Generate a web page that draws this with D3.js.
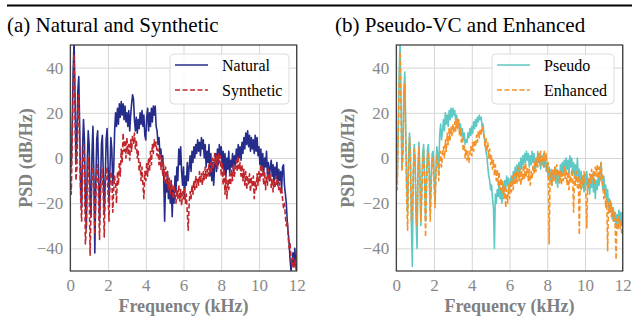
<!DOCTYPE html>
<html>
<head>
<meta charset="utf-8">
<script src="https://cdn.jsdelivr.net/npm/d3@7"></script>
<style>
  body { margin: 0; background: #fff; }
  svg { display: block; }
  text { font-family: "Liberation Serif", "Times New Roman", serif; }
</style>
</head>
<body>
<div id="chart"></div>
<script>
// PSD values in dB/Hz, one sample every 0.05 kHz from 0 to 12 kHz (one row = 1 kHz)
const freqStep = 0.05;

const natural = [
  6, -4, 14, 38, 52, 28, -2, 8, 30, 36, 12, -14, -22, 4, 17, 8, -20, -31, -2, 12,
  6, -18, -26, 2, 14, -8, -42, -12, 8, 12, -6, -28, -14, 6, 10, -8, -25, -10, 8, 13,
  -2, -20, -6, 9, 4, -12, -5, 12, 20, 14, 22, 15, 24, 18, 25, 19, 24, 17, 23, 16,
  20, 14, 21, 12, 19, 24, 28, 26, 17, 12, 18, 11, 17, 13, 20, 15, 21, 14, 19, 10,
  8, 18, 22, 12, 20, 14, 22, 16, 23, 19, 23, 14, 12, 6, 9, 2, 4, -2, 1, -8,
  -28, -10, -15, -6, -18, -12, -20, -10, -26, -14, -20, -8, -15, -4, -10, 4, -3, 5, -6, -12,
  -4, -18, -8, -12, -2, -10, -4, 1, -6, 3, -2, 5, 0, 6, 2, 8, 3, 7, 1, 9,
  4, 8, 0, 6, -4, 3, -2, 6, -8, 2, -10, -2, -12, -4, 2, -6, 4, -3, 6, 0,
  5, -4, 3, -6, 2, -8, 0, -5, 3, -7, -1, -4, 2, -6, 1, -3, 4, -2, 6, 0,
  5, -1, 7, 2, 9, 4, 11, 6, 12, 5, 10, 3, 9, 4, 8, 2, 10, 3, 9, 1,
  5, -3, 4, -5, 2, -7, 0, -4, 3, -8, -2, -10, -4, -1, -8, -3, -11, -4, -9, -2,
  -12, -5, -10, -6, -14, -4, -3, -12, -16, -20, -28, -33, -38, -45, -50, -46, -42, -48, -40, -47,
  -50
];

const synthetic = [
  -2, -16, 6, 30, 46, 20, -10, -4, 20, 28, 4, -18, -28, -6, 6, -2, -38, -30, -10, 0,
  -12, -43, -22, -6, -4, -14, -34, -18, -6, -3, -20, -36, -16, -7, -5, -18, -35, -14, -6, -4,
  -16, -28, -12, -6, -9, -24, -14, -8, -12, -20, -6, -12, -2, -8, 4, -2, 11, 3, 8, 0,
  9, 2, 6, -1, 8, 3, 10, 6, 11, 4, 8, 0, 3, -6, -2, -10, -4, -12, -18, -6,
  -10, -2, -8, 0, -6, 3, -3, 6, 2, 8, 5, 7, 1, 4, -3, 2, -5, 0, -8, -3,
  -10, -4, -12, -6, -14, -9, -16, -10, -13, -18, -12, -16, -20, -14, -18, -12, -19, -14, -21, -15,
  -18, -13, -20, -16, -24, -32, -20, -15, -18, -12, -16, -10, -14, -8, -13, -9, -12, -6, -11, -7,
  -12, -6, -10, -4, -9, -5, -8, -3, -7, -2, -6, 0, -4, 2, -3, 1, -5, 2, -2, 1,
  -8, -2, -12, -5, -16, -8, -18, -10, -14, -7, -12, -5, -10, -3, -8, -4, -1, -6, 1, -5,
  -2, -8, -3, -10, -5, -12, -6, -14, -8, -12, -7, -15, -9, -13, -8, -18, -10, -14, -7, -12,
  -6, -10, -3, -8, -4, -12, -6, -14, -8, -12, -5, -10, -7, -13, -9, -15, -10, -13, -8, -12,
  -10, -14, -11, -16, -13, -18, -22, -20, -26, -30, -28, -35, -40, -38, -44, -48, -44, -49, -45, -48,
  -50
];

const pseudo = [
  14, -10, 10, 36, 52, 26, -4, 4, 30, 38, 14, -12, -24, 0, 11, 2, -30, -48, -8, 6,
  0, -28, -40, -4, 7, -6, -30, -14, 2, 6, -8, -28, -10, 3, 6, -6, -24, -8, 2, 3,
  -8, -20, -4, 5, 1, -6, 10, 15, 8, 12, 17, 12, 20, 15, 19, 14, 21, 17, 22, 18,
  22, 19, 21, 16, 19, 14, 17, 12, 15, 10, 13, 8, 11, 6, 8, 7, 11, 9, 13, 10,
  14, 11, 16, 13, 17, 14, 18, 16, 19, 17, 18, 14, 15, 10, 7, 3, 1, -4, -8, -10,
  -14, -12, -18, -22, -40, -16, -20, -14, -17, -12, -18, -14, -20, -12, -16, -10, -14, -8, -12, -9,
  -14, -10, -8, -12, -6, -10, -4, -9, -3, -7, -2, -6, 0, -5, 1, -3, 2, -2, 3, -1,
  2, -4, 1, -3, 3, -2, 2, -6, 0, -4, 3, -2, 2, -5, 1, -3, 2, -4, 0, -6,
  -2, -8, -4, -10, -5, -12, -6, -9, -4, -11, -5, -13, -6, -10, -3, -8, -2, -7, -1, -6,
  0, -5, -1, -8, 1, -4, 0, -7, -2, -9, -3, -8, 0, -10, -5, -12, -6, -13, -8, -15,
  -7, -12, -6, -14, -9, -16, -8, -13, -7, -15, -9, -18, -10, -14, -8, -12, -6, -2, -10, -14,
  -8, -16, -12, -20, -14, -22, -18, -24, -20, -27, -22, -28, -24, -30, -25, -29, -23, -28, -24, -30,
  -24
];

const enhanced = [
  4, -14, 8, 32, 47, 22, -6, 0, 24, 33, 8, -18, -32, -4, 9, -2, -28, -22, -6, 4,
  -4, -24, -30, -6, 5, -10, -28, -16, -2, 3, -12, -35, -14, 0, 2, -10, -28, -12, -2, 0,
  -10, -22, -8, 1, -2, -10, -2, 3, -4, 2, 5, 0, 8, 3, 11, 6, 13, 8, 14, 10,
  15, 11, 16, 12, 17, 13, 17, 10, 13, 7, 9, 3, 6, 0, 4, -1, 3, -2, 2, 5,
  1, 7, 3, 8, 5, 10, 7, 12, 9, 13, 10, 14, 11, 10, 5, 9, 3, 7, 0, 4,
  -3, 1, -5, -1, -8, -3, -10, -5, -12, -6, -14, -9, -16, -10, -18, -12, -22, -14, -20, -12,
  -18, -10, -15, -8, -14, -7, -12, -6, -11, -4, -10, -5, -12, -6, -10, -3, -9, -2, -8, -4,
  -10, -5, -12, -6, -9, -3, -7, -1, -6, 0, -4, 2, -3, 3, -2, 1, -4, 3, -1, 2,
  -6, -2, -38, -10, -6, -12, -5, -10, -4, -9, -3, -8, -5, -11, -6, -12, -7, -10, -4, -9,
  -5, -12, -6, -14, -8, -11, -5, -10, -24, -8, -12, -6, -13, -8, -34, -10, -14, -8, -12, -6,
  -10, -16, -31, -9, -13, -7, -11, -5, -10, -6, -12, -4, -8, -3, -9, -4, -10, -2, -7, -12,
  -18, -14, -22, -18, -41, -20, -24, -19, -26, -22, -28, -24, -30, -45, -27, -32, -26, -31, -28, -34,
  -33
];

const xTicks = [0, 2, 4, 6, 8, 10, 12];
const yTicks = [-40, -20, 0, 20, 40];

const width = 632, height = 330;
const plotTop = 45, plotH = 226, plotW = 226.4;

const svg = d3.select('#chart').append('svg')
  .attr('width', width)
  .attr('height', height);

// rule across the top of the figure
svg.append('line')
  .attr('x1', 7).attr('x2', 632).attr('y1', 5.5).attr('y2', 5.5)
  .attr('stroke', '#000').attr('stroke-width', 2);

function drawPanel(cfg) {
  const g = svg.append('g').attr('transform', `translate(${cfg.left},${plotTop})`);

  const x = d3.scaleLinear().domain([0, 12]).range([0, plotW]);
  const y = d3.scaleLinear().domain([-50, 50]).range([plotH, 0]);

  // grid
  g.append('g')
    .attr('transform', `translate(0,${plotH})`)
    .call(d3.axisBottom(x).tickValues(xTicks).tickSize(-plotH).tickFormat(''))
    .call(s => s.select('.domain').remove())
    .selectAll('line').attr('stroke', '#d6d6d6').attr('stroke-width', 1);
  g.append('g')
    .call(d3.axisLeft(y).tickValues(yTicks).tickSize(-plotW).tickFormat(''))
    .call(s => s.select('.domain').remove())
    .selectAll('line').attr('stroke', '#d6d6d6').attr('stroke-width', 1);

  // curves, clipped to the plot box
  const clipId = 'clip-' + cfg.id;
  g.append('clipPath').attr('id', clipId)
    .append('rect').attr('width', plotW).attr('height', plotH);

  const line = d3.line()
    .x((d, i) => x(i * freqStep))
    .y(d => y(d));

  cfg.series.forEach(s => {
    g.append('path')
      .datum(s.values)
      .attr('clip-path', `url(#${clipId})`)
      .attr('fill', 'none')
      .attr('stroke', s.color)
      .attr('stroke-width', 1.6)
      .attr('stroke-linejoin', 'round')
      .attr('stroke-dasharray', s.dash ? '5,2.5' : null)
      .attr('d', line);
  });

  // frame
  g.append('rect')
    .attr('width', plotW).attr('height', plotH)
    .attr('fill', 'none').attr('stroke', '#333').attr('stroke-width', 1.2);

  // tick labels
  g.append('g')
    .attr('transform', `translate(0,${plotH})`)
    .call(d3.axisBottom(x).tickValues(xTicks).tickSize(0).tickPadding(8))
    .call(s => s.select('.domain').remove())
    .selectAll('text')
    .attr('font-family', '"Liberation Serif", serif')
    .attr('font-size', 17).attr('fill', '#888');
  g.append('g')
    .call(d3.axisLeft(y).tickValues(yTicks).tickSize(0).tickPadding(7))
    .call(s => s.select('.domain').remove())
    .selectAll('text')
    .attr('font-family', '"Liberation Serif", serif')
    .attr('font-size', 17).attr('fill', '#888');

  // axis titles
  g.append('text')
    .attr('x', plotW / 2).attr('y', 267)
    .attr('text-anchor', 'middle')
    .attr('font-size', 18).attr('font-weight', 'bold').attr('fill', '#808080')
    .text('Frequency (kHz)');
  g.append('text')
    .attr('transform', `translate(${cfg.yLabelX},${plotH / 2}) rotate(-90)`)
    .attr('text-anchor', 'middle')
    .attr('font-size', 18).attr('font-weight', 'bold').attr('fill', '#808080')
    .text('PSD (dB/Hz)');

  // legend
  const lg = g.append('g').attr('transform', `translate(${cfg.legendX},9)`);
  lg.append('rect')
    .attr('width', cfg.legendW).attr('height', 50).attr('rx', 4)
    .attr('fill', '#fff').attr('fill-opacity', 0.85)
    .attr('stroke', '#dcdcdc').attr('stroke-width', 1);
  cfg.series.forEach((s, i) => {
    const ry = 11 + i * 25;
    lg.append('line')
      .attr('x1', 5).attr('x2', 38).attr('y1', ry).attr('y2', ry)
      .attr('stroke', s.color).attr('stroke-width', 1.6)
      .attr('stroke-dasharray', s.dash ? '5,2.5' : null);
    lg.append('text')
      .attr('x', 52).attr('y', ry + 5.5)
      .attr('font-size', 16).attr('fill', '#000')
      .text(s.name);
  });

  // panel title
  svg.append('text')
    .attr('x', cfg.titleX).attr('y', 31.5)
    .attr('font-size', 21).attr('fill', '#000')
    .text(cfg.title);
}

drawPanel({
  id: 'a', left: 70.3, title: '(a) Natural and Synthetic', titleX: 7,
  yLabelX: -38, legendX: 99.7, legendW: 119,
  series: [
    { name: 'Natural', values: natural, color: '#262c8a', dash: false },
    { name: 'Synthetic', values: synthetic, color: '#c0272d', dash: true }
  ]
});

drawPanel({
  id: 'b', left: 396.3, title: '(b) Pseudo-VC and Enhanced', titleX: 335,
  yLabelX: -42, legendX: 95.7, legendW: 122,
  series: [
    { name: 'Pseudo', values: pseudo, color: '#5ec8c4', dash: false },
    { name: 'Enhanced', values: enhanced, color: '#f5922a', dash: true }
  ]
});
</script>
</body>
</html>
